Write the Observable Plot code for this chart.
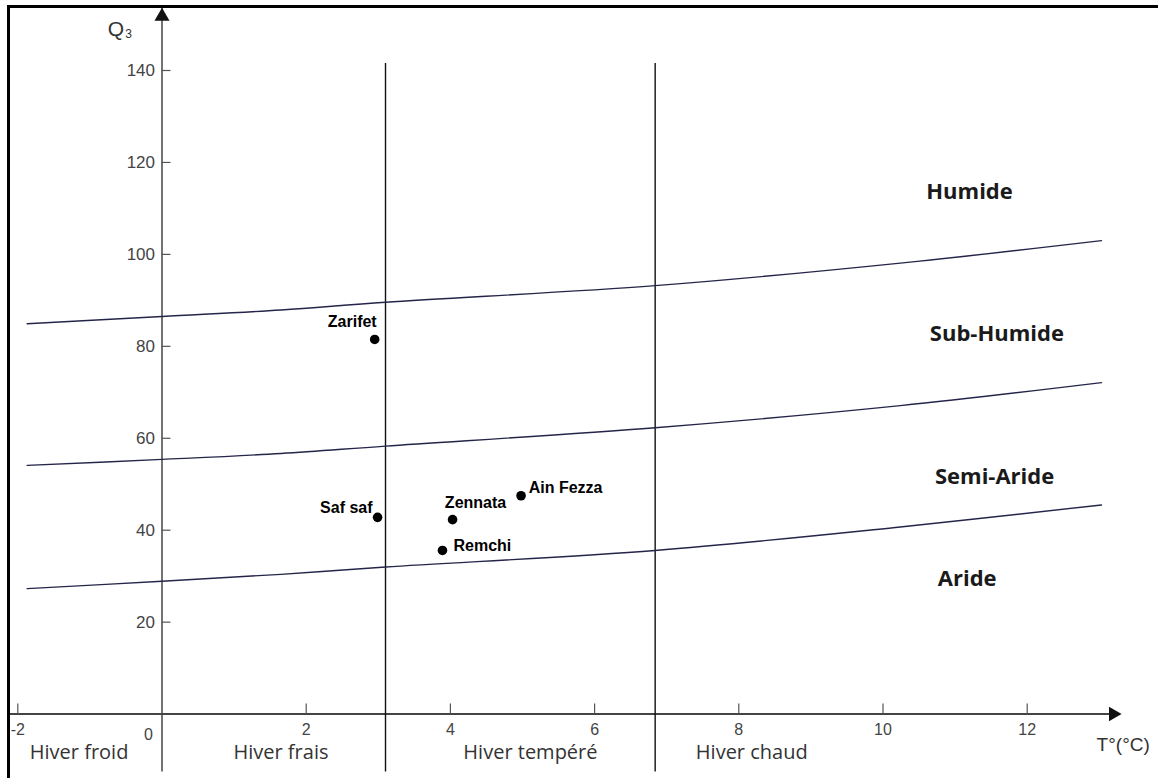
<!DOCTYPE html>
<html>
<head>
<meta charset="utf-8">
<script src="https://cdn.jsdelivr.net/npm/d3@7"></script>
<script src="https://cdn.jsdelivr.net/npm/@observablehq/plot@0.6"></script>
<style>
  html, body { margin: 0; padding: 0; background: #fff; overflow: hidden; }
  #wrap { position: relative; width: 1158px; height: 778px; }
  #border { position: absolute; left: 7px; top: 5px; width: 1300px; height: 900px;
            border-top: 3px solid #000; border-left: 3px solid #000; pointer-events: none; }
</style>
</head>
<body>
<div id="wrap"><div id="chart"></div><div id="border"></div></div>
<script>
// ---- data ----
const xTicks = [-2, 2, 4, 6, 8, 10, 12];
const yTicks = [20, 40, 60, 80, 100, 120, 140];

const stations = ["Zarifet", "Saf saf", "Zennata", "Ain Fezza", "Remchi"];
const stationT = [2.95, 2.99, 4.03, 4.98, 3.89];
const stationQ = [81.5, 42.8, 42.3, 47.5, 35.6];

const boundaryT   = [-1.87, 0, 1.65, 3.1, 6.84, 10.24, 13.03];
const humideQ     = [84.9, 86.5, 87.9, 89.6, 93.2, 98.1, 103.0];
const subHumideQ  = [54.1, 55.4, 56.7, 58.3, 62.3, 67.1, 72.1];
const semiAridQ   = [27.3, 28.9, 30.4, 32.0, 35.6, 40.7, 45.5];

const zoneNames = ["Humide", "Sub-Humide", "Semi-Aride", "Aride"];
const zoneT = [10.6, 10.65, 10.72, 10.76];
const zoneQ = [113.5, 82.6, 51.5, 29.5];

const winterNames = ["Hiver froid", "Hiver frais", "Hiver tempéré", "Hiver chaud"];
const winterT = [-1.15, 1.65, 5.11, 8.18];
const winterBounds = [3.1, 6.84];

// ---- layout (label offsets in px) ----
const labelLayout = [
  {anchor: "end",   dx: 2,    dy: -17.5},
  {anchor: "end",   dx: -5,   dy: -9},
  {anchor: "start", dx: -7.7, dy: -17},
  {anchor: "start", dx: 7.6,  dy: -7.5},
  {anchor: "start", dx: 11,   dy: -5}
];

const pts = stations.map((s, i) => ({name: s, t: stationT[i], q: stationQ[i]}));
const curve = qs => boundaryT.map((t, i) => ({t, q: qs[i]}));
const lineStyle = {x: "t", y: "q", curve: "catmull-rom", stroke: "#25254a", strokeWidth: 1.4};

const sans = "Liberation Sans, Arial, sans-serif";
const label = "Open Sans, sans-serif";

const marks = [
  // axes lines
  Plot.ruleY([0], {stroke: "#444", strokeWidth: 2, insetLeft: -9.3, insetRight: -83}),
  Plot.ruleX([0], {stroke: "#444", strokeWidth: 1.5, insetTop: -62, insetBottom: -58}),
  // winter boundaries
  Plot.ruleX(winterBounds, {stroke: "#111", strokeWidth: 1.4, insetTop: -7, insetBottom: -58}),
  // arrows
  Plot.dot([0], {x: d => d, frameAnchor: "top", dy: -54, symbol: "triangle", r: 5.6, fill: "#111", stroke: "none"}),
  Plot.dot([0], {y: d => d, frameAnchor: "right", dx: 86, symbol: "triangle", r: 5.4, rotate: 90, fill: "#111", stroke: "none"}),
  // ticks
  Plot.ruleY(yTicks, {y: d => d, x1: 0, x2: 0.125, stroke: "#555", strokeWidth: 1.2}),
  Plot.ruleX(xTicks, {x: d => d, y1: 0, y2: 2.2, stroke: "#555", strokeWidth: 1.2}),
  Plot.text(yTicks, {x: 0, y: d => d, text: d => String(d), dx: -7, textAnchor: "end",
    fontFamily: sans, fontSize: 17, fill: "#444"}),
  Plot.text(xTicks, {x: d => d, y: 0, text: d => String(d), dy: 16,
    fontFamily: sans, fontSize: 16, fill: "#444"}),
  Plot.text(["0"], {x: 0, y: 0, text: d => d, dx: -13.5, dy: 21,
    fontFamily: sans, fontSize: 16, fill: "#444"}),
  // axis titles
  Plot.text(["Q"], {x: 0, y: 140, text: d => d, dx: -46, dy: -41, fontFamily: sans, fontSize: 21, fill: "#333"}),
  Plot.text(["3"], {x: 0, y: 140, text: d => d, dx: -33.5, dy: -36, fontFamily: sans, fontSize: 12, fill: "#333"}),
  Plot.text(["T°(°C)"], {x: 12, y: 0, text: d => d, dx: 96, dy: 31, fontFamily: sans, fontSize: 19, fill: "#333"}),
  // boundaries
  Plot.line(curve(humideQ), lineStyle),
  Plot.line(curve(subHumideQ), lineStyle),
  Plot.line(curve(semiAridQ), lineStyle),
  // zone labels
  Plot.text(zoneNames, {x: (d, i) => zoneT[i], y: (d, i) => zoneQ[i], text: d => d, textAnchor: "start",
    fontFamily: label, fontWeight: 700, fontSize: 22, fill: "#1a1a1a"}),
  // winter labels
  Plot.text(winterNames, {x: (d, i) => winterT[i], y: 0, text: d => d, dy: 38.5,
    fontFamily: label, fontSize: 20, fill: "#333"}),
  // stations
  Plot.dot(pts, {x: "t", y: "q", r: 4.8, fill: "#000", stroke: "none"}),
  ...pts.map((p, i) => Plot.text([p], {x: "t", y: "q", text: "name",
    textAnchor: labelLayout[i].anchor, dx: labelLayout[i].dx, dy: labelLayout[i].dy,
    fontFamily: sans, fontWeight: 700, fontSize: 16, fill: "#000"}))
];

const chart = Plot.plot({
  width: 1158,
  height: 778,
  marginLeft: 17.3,
  marginRight: 131.3,
  marginTop: 70,
  marginBottom: 64.4,
  x: {domain: [-2, 12], axis: null},
  y: {domain: [0, 140], axis: null},
  style: {background: "#fff", overflow: "visible"},
  marks
});
document.getElementById("chart").appendChild(chart);
</script>
</body>
</html>
